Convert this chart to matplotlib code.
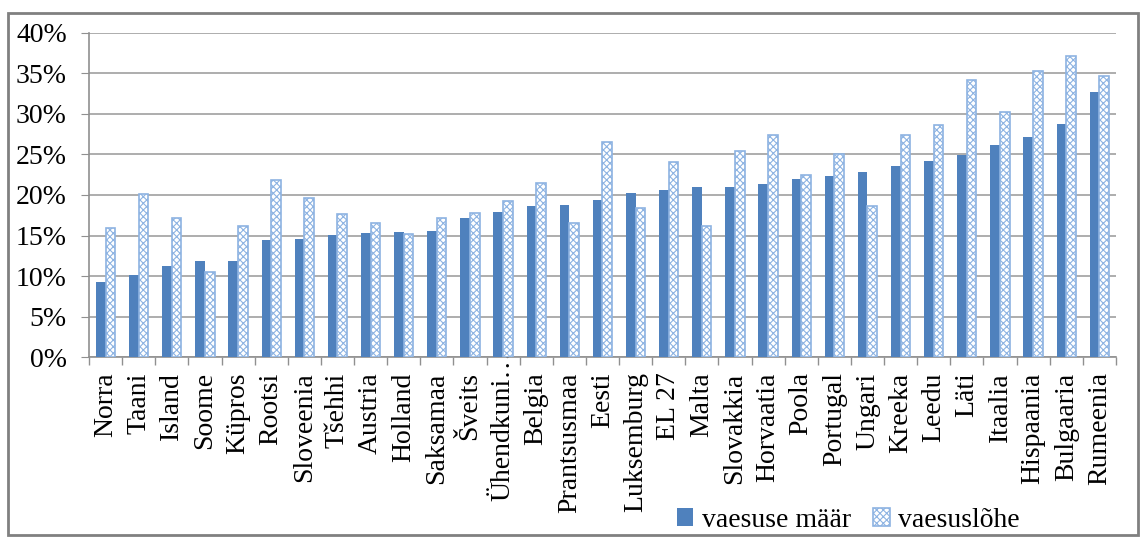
import numpy as np
import matplotlib
matplotlib.use("Agg")
import matplotlib.pyplot as plt
from matplotlib.patches import Rectangle
from matplotlib.ticker import PercentFormatter
from matplotlib.transforms import ScaledTranslation

# andmed (loetud pildilt, %)
riigid = ["Norra", "Taani", "Island", "Soome", "Küpros", "Rootsi", "Sloveenia",
          "Tšehhi", "Austria", "Holland", "Saksamaa", "Šveits", "Ühendkuni…",
          "Belgia", "Prantsusmaa", "Eesti", "Luksemburg", "EL 27", "Malta",
          "Slovakkia", "Horvaatia", "Poola", "Portugal", "Ungari", "Kreeka",
          "Leedu", "Läti", "Itaalia", "Hispaania", "Bulgaaria", "Rumeenia"]

vaesuse_maar = [9.3, 10.1, 11.2, 11.8, 11.9, 14.4, 14.6, 15.1, 15.3, 15.4,
                15.6, 17.2, 17.9, 18.6, 18.8, 19.4, 20.3, 20.6, 21.0, 21.0,
                21.4, 22.0, 22.3, 22.8, 23.6, 24.2, 24.9, 26.2, 27.2, 28.8, 32.7]

vaesuslohe = [15.9, 20.1, 17.2, 10.5, 16.2, 21.8, 19.6, 17.7, 16.6, 15.2,
              17.2, 17.8, 19.2, 21.5, 16.6, 26.6, 18.4, 24.1, 16.2, 25.4,
              27.4, 22.5, 25.1, 18.7, 27.4, 28.6, 34.2, 30.2, 35.3, 37.2, 34.7]

sinine = "#4F81BD"

plt.rcParams['font.family'] = ['Liberation Serif', 'DejaVu Serif']
plt.rcParams['hatch.linewidth'] = 0.8
plt.rcParams['hatch.color'] = sinine

fig = plt.figure(figsize=(11.41, 5.38), dpi=100)
ax = fig.add_axes([0.078, 0.3364, 0.900, 0.6023])

x = np.arange(len(riigid))
w = 0.29

ax.bar(x - w / 2, vaesuse_maar, w, color=sinine, label="vaesuse määr", zorder=3)
ax.bar(x + w / 2, vaesuslohe, w, facecolor="white", edgecolor="#8DB3E2",
       hatch="xxxxx", linewidth=1.2, label="vaesuslõhe", zorder=3)

ax.set_ylim(0, 40)
ax.set_xlim(-0.5, len(riigid) - 0.5)
ax.set_yticks(np.arange(0, 41, 5))
ax.yaxis.set_major_formatter(PercentFormatter(decimals=0))
ax.yaxis.grid(True, color="#A0A0A0", linewidth=1.2, zorder=0)

ax.set_xticks(x)
ax.set_xticklabels(riigid, rotation=90, fontsize=20)
ax.set_xticks(np.arange(-0.5, len(riigid), 1), minor=True)
ax.tick_params(axis="x", which="major", length=0, pad=11)
ax.tick_params(axis="x", which="minor", length=6, color="#909090", width=1)
ax.tick_params(axis="y", length=6, color="#909090", labelsize=20, pad=10)

# pikk silt on kärbitud ja nihkub üles nagu originaalis
lbl = ax.get_xticklabels()[12]
lbl.set_transform(lbl.get_transform() + ScaledTranslation(0, 22 / 100, fig.dpi_scale_trans))

for s in ["top", "right"]:
    ax.spines[s].set_visible(False)
for s in ["left", "bottom"]:
    ax.spines[s].set_color("#909090")
    ax.spines[s].set_linewidth(1.2)

# välimine raam
fig.patches.append(Rectangle((8 / 1141, 0.005), 1130 / 1141, 0.970,
                             transform=fig.transFigure, fill=False,
                             edgecolor="#808080", linewidth=2))

fig.legend(loc="center", bbox_to_anchor=(848 / 1141, 0.033), ncol=2,
           frameon=False, fontsize=20, handlelength=0.6, handleheight=0.6,
           handletextpad=0.3, columnspacing=0.8)

fig.savefig("out.png", dpi=100)
